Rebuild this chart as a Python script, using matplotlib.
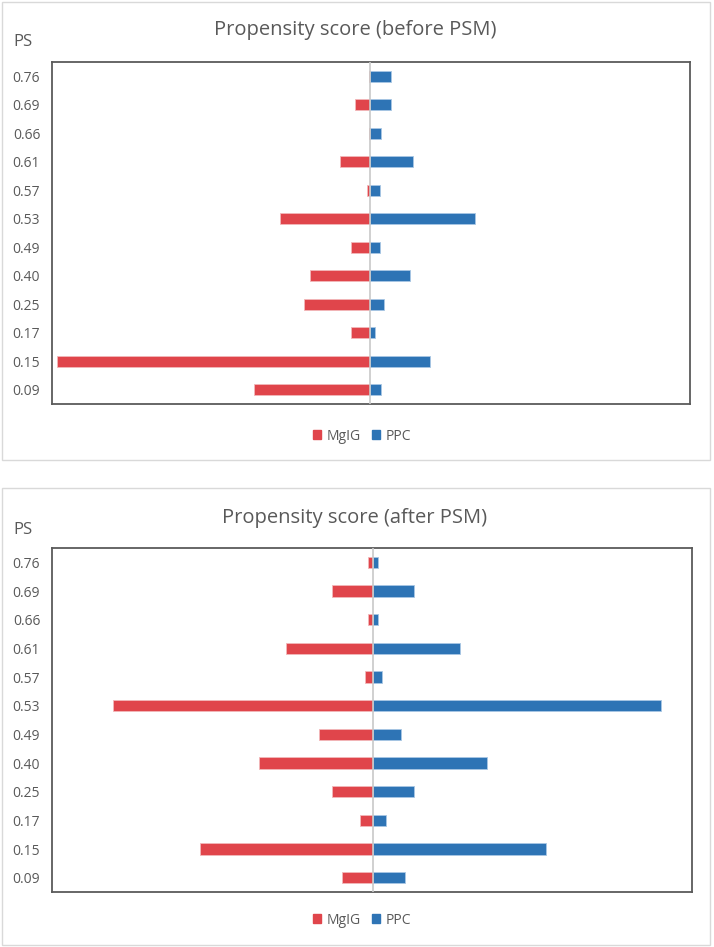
import matplotlib
matplotlib.use("Agg")
import matplotlib.pyplot as plt
from matplotlib.patches import Rectangle, Patch

plt.rcParams['font.family'] = ['Open Sans', 'DejaVu Sans']

categories = ["0.09", "0.15", "0.17", "0.25", "0.40", "0.49", "0.53", "0.57", "0.61", "0.66", "0.69", "0.76"]

before_mgig = [116, 313, 19.5, 66.5, 60, 19.5, 90, 3, 30, 1, 15, 1]
before_ppc = [11, 60, 5, 14, 40, 10, 105, 10, 43, 11, 21, 20.5]

after_mgig = [31.5, 173, 13.5, 41, 114, 54.5, 260, 8.5, 87, 5, 41, 5]
after_ppc = [32, 173, 13, 41, 114, 28, 288, 9, 87, 5, 41, 5]

titles = ["Propensity score (before PSM)", "Propensity score (after PSM)"]
series_names = ["MgIG", "PPC"]

RED = "#E0454B"
BLUE = "#2E74B5"
TXT = "#595959"

W, H = 714, 947
fig = plt.figure(figsize=(W / 100, H / 100), dpi=100)
fig.patch.set_facecolor("white")

def fx(px):
    return px / W

def fy(py):
    return 1 - py / H

panels = [
    dict(box=(2, 2, 710, 460), ax=(52, 62, 690, 404), title_y=30, ps_y=42, leg_y=436,
         left=before_mgig, right=before_ppc, lim=(-318, 320)),
    dict(box=(2, 488, 710, 945), ax=(52, 548, 692, 892), title_y=518, ps_y=530, leg_y=920,
         left=after_mgig, right=after_ppc, lim=(-321, 319)),
]

for i, p in enumerate(panels):
    bx0, by0, bx1, by1 = p["box"]
    fig.patches.append(Rectangle((fx(bx0), fy(by1)), fx(bx1) - fx(bx0), fy(by0) - fy(by1),
                                 transform=fig.transFigure, fill=False, edgecolor="#D9D9D9",
                                 linewidth=1.0, zorder=0))
    ax0, ay0, ax1, ay1 = p["ax"]
    ax = fig.add_axes([fx(ax0), fy(ay1), fx(ax1) - fx(ax0), fy(ay0) - fy(ay1)])
    y = list(range(len(categories)))
    ax.barh(y, [-v for v in p["left"]], height=0.4, color=RED, edgecolor="#F2B8BA",
            linewidth=0.6, zorder=2)
    ax.barh(y, p["right"], height=0.4, color=BLUE, edgecolor="#A9C7E4",
            linewidth=0.6, zorder=2)
    ax.axvline(0, color="#C8C8C8", linewidth=1.2, zorder=3)
    ax.set_xlim(*p["lim"])
    ax.set_ylim(-0.5, len(categories) - 0.5)
    ax.set_yticks(y)
    ax.set_yticklabels(categories, color=TXT, fontsize=10)
    ax.tick_params(axis="y", length=0, pad=8.5)
    ax.set_xticks([])
    for s in ax.spines.values():
        s.set_color("#5A5A5A")
        s.set_linewidth(1.3)
    fig.text(fx(355), fy(p["title_y"]), titles[i], ha="center", va="center",
             fontsize=14.5, color=TXT)
    fig.text(fx(13), fy(p["ps_y"]), "PS", ha="left", va="center", fontsize=12, color=TXT)
    handles = [Patch(facecolor=RED, edgecolor=RED, label=series_names[0]),
               Patch(facecolor=BLUE, edgecolor=BLUE, label=series_names[1])]
    fig.legend(handles=handles, loc="center", bbox_to_anchor=(fx(362), fy(p["leg_y"])),
               ncol=2, frameon=False, fontsize=10, labelcolor=TXT, handlelength=0.6,
               handleheight=0.6, handletextpad=0.4, columnspacing=0.8)

fig.savefig("out.png", dpi=100, facecolor="white")
